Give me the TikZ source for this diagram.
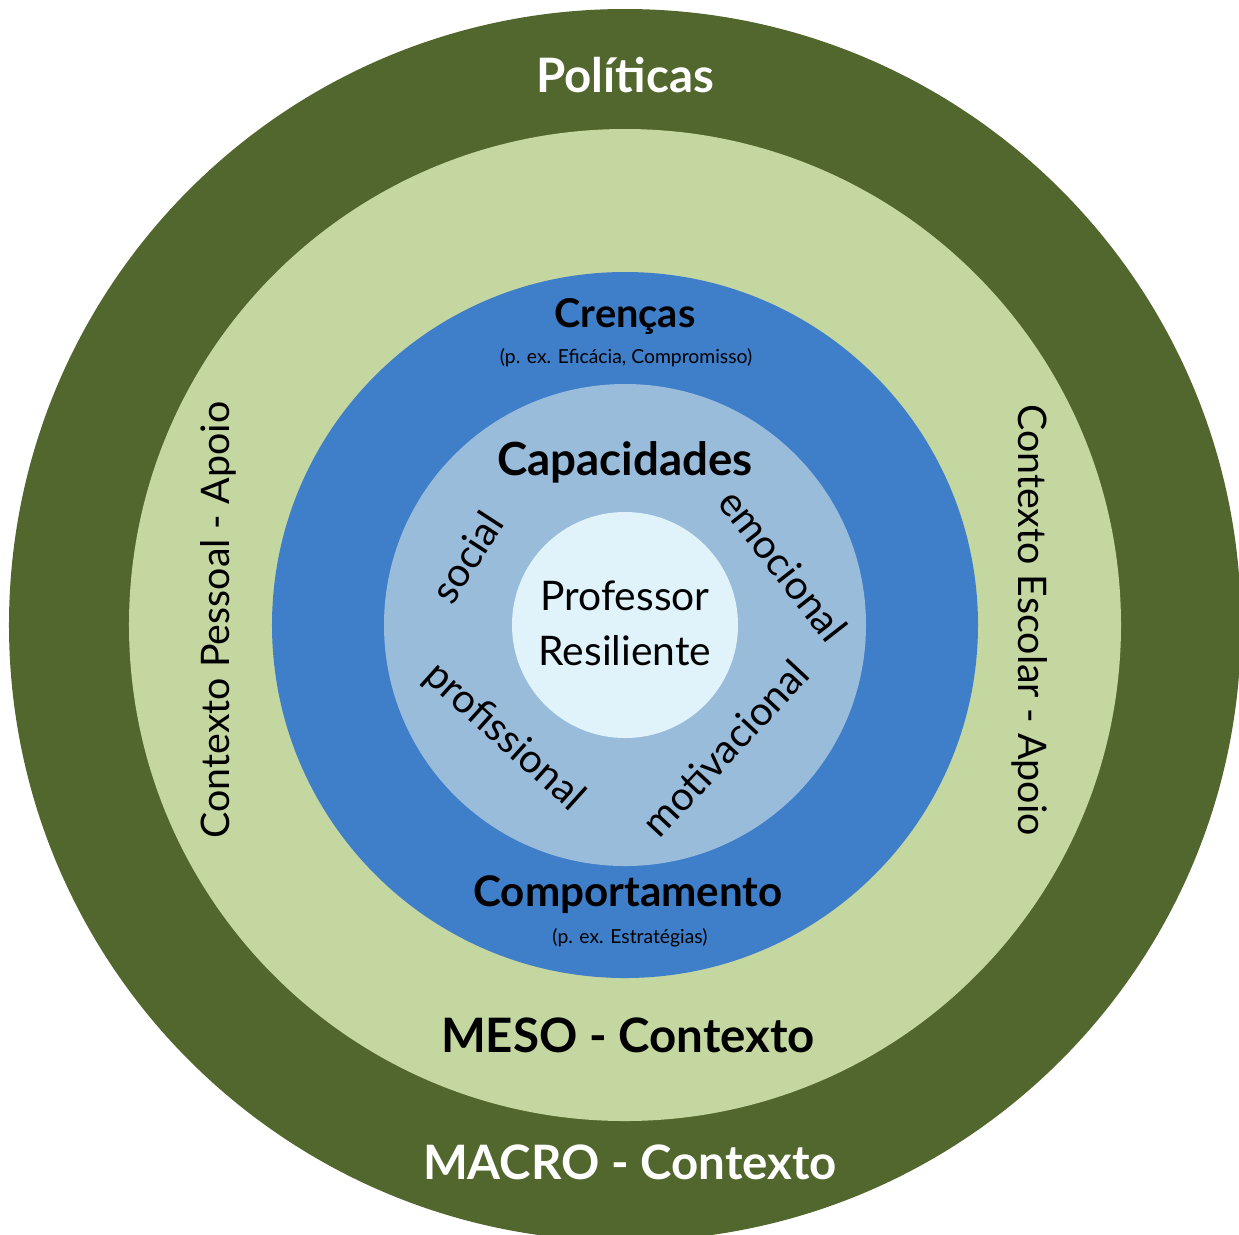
\documentclass[tikz,border=0pt]{standalone}
\usepackage{fontspec}
\setmainfont{Lato}
\definecolor{macro}{RGB}{82,103,45}
\definecolor{meso}{RGB}{196,215,160}
\definecolor{crencas}{RGB}{63,126,200}
\definecolor{capac}{RGB}{154,188,219}
\definecolor{centro}{RGB}{224,243,251}
\begin{document}
\begin{tikzpicture}[
  titulo/.style={font=\bfseries\fontsize{13.5}{16}\selectfont},
  nivel/.style={font=\bfseries\fontsize{12}{14}\selectfont},
  exemplo/.style={font=\fontsize{5.5}{7}\selectfont},
  apoio/.style={font=\fontsize{11.2}{13}\selectfont},
  dimensao/.style={font=\fontsize{11.4}{13}\selectfont}]
\useasboundingbox (-6.25,-6.09) rectangle (6.14,6.25);
\fill[macro] (0,0) circle (6.16);
\fill[meso] (0,0) circle (4.96);
\fill[crencas] (0,0) circle (3.53);
\fill[capac] (0,0) circle (2.41);
\fill[centro] (0,0) circle (1.13);
% textos
\node[titulo,white] (pol) at (0,5.50) {Políticas};
\node[titulo] (meso) at (0.03,-4.10) {MESO - Contexto};
\node[titulo,white] (macro) at (0.05,-5.37) {MACRO - Contexto};
\node[apoio,rotate=90] (pessoal) at (-4.07,0.05) {Contexto Pessoal - Apoio};
\node[apoio,rotate=-90] (escolar) at (4.05,0.05) {Contexto Escolar - Apoio};
\node[nivel,font=\bfseries\fontsize{11.3}{13}\selectfont] (cren) at (0,3.08) {Crenças};
\node[exemplo] (cren2) at (0.01,2.67) {(p. ex. Eficácia, Compromisso)};
\node[nivel,font=\bfseries\fontsize{13}{15}\selectfont] (cap) at (0,1.63) {Capacidades};
\node[nivel] (comp) at (0.03,-2.70) {Comportamento};
\node[exemplo] (comp2) at (0.05,-3.13) {(p. ex. Estratégias)};
\node[font=\fontsize{11.6}{15.6}\selectfont,align=center] (prof) at (0,0.02) {Professor\\Resiliente};
\node[dimensao,rotate=57] (soc) at (-1.58,0.68) {social};
\node[dimensao,rotate=-52] (emo) at (1.58,0.60) {emocional};
\node[dimensao,rotate=-42] (pro) at (-1.21,-1.12) {profissional};
\node[dimensao,rotate=47] (mot) at (1.00,-1.23) {motivacional};
\end{tikzpicture}
\end{document}
